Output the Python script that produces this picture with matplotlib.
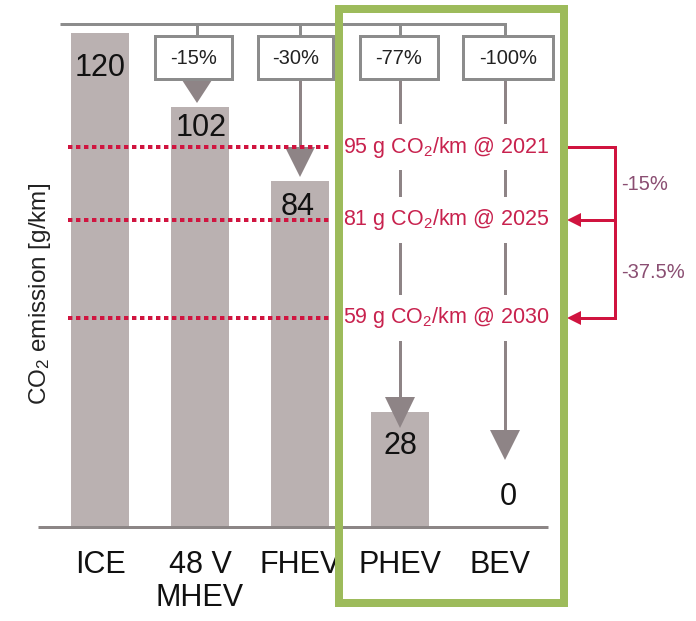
import matplotlib
matplotlib.use("Agg")
import matplotlib.pyplot as plt
from matplotlib import transforms
from matplotlib.patches import Rectangle, Polygon

plt.rcParams['font.family'] = ['Liberation Sans', 'DejaVu Sans']
plt.rcParams['mathtext.default'] = 'regular'

# ---------------- data ----------------
categories = ['ICE', '48 V\nMHEV', 'FHEV', 'PHEV', 'BEV']
emissions = [120, 102, 84, 28, 0]
reductions = [None, '-15%', '-30%', '-77%', '-100%']
targets = ['95 g CO$_2$/km @ 2021', '81 g CO$_2$/km @ 2025', '59 g CO$_2$/km @ 2030']
target_steps = ['-15%', '-37.5%']
ylabel = 'CO$_2$ emission [g/km]'

# ---------------- layout / style ----------------
W, H = 696, 621
PX_PER_UNIT = 4.117
BASE_PX = 527
BAR_C = '#BAB1B1'
ARROW_C = '#8E8486'
BOX_C = '#8C8C8C'
RED = '#D0143F'
RED_TXT = '#C8224E'
PURP = '#8A4E72'
GREEN = '#9DBB5B'

fig = plt.figure(figsize=(W / 100, H / 100), dpi=100)
ax = fig.add_axes([0, 0, 1, 1])
ax.set_xlim(-1, W / 100 - 1)
ax.set_ylim(-(H - BASE_PX) / PX_PER_UNIT, BASE_PX / PX_PER_UNIT)
ax.axis('off')

# pixel transform (origin top-left) for the schematic decorations
P = transforms.Affine2D().scale(1 / W, -1 / H).translate(0, 1) + fig.transFigure
XD_YP = transforms.blended_transform_factory(ax.transData, P)

LW3 = 3 * 0.72  # 3 px in points

# bars
x = list(range(len(categories)))
ax.bar(x, emissions, width=0.58, color=BAR_C, zorder=1)

# value labels
label_dy_px = [-35, -21, -26, -34, 30]
label_dx_px = [0, 1, -2, 0, 8]
for i, v in enumerate(emissions):
    ax.annotate(str(v), xy=(i, v), xytext=(label_dx_px[i] * 0.72, label_dy_px[i] * 0.72),
                textcoords='offset points', ha='center', va='center',
                fontsize=22, color='#111111', zorder=4)

# category labels
for i, c in enumerate(categories):
    ax.text(i, 550, c, transform=XD_YP, ha='center', va='top', fontsize=22,
            color='#111111', linespacing=1.15, zorder=4)

# y label
ax.text(40, 294, ylabel, transform=P, rotation=90, ha='center', va='center',
        fontsize=17.5, color='#222222')

# baseline & top line
ax.plot([38, 548], [527, 527], transform=P, color='#8C8686', lw=LW3, zorder=3,
        solid_capstyle='butt')
ax.plot([60, 505], [24, 24], transform=P, color=BOX_C, lw=LW3, zorder=3,
        solid_capstyle='butt')

# reduction boxes
box_x = [None, (155, 232), (258, 333), (360, 438), (463, 553)]
conn_x = [None, 197, 300, 400, 505]
tri_top = [None, 80, 147, 397, 430]
tri_tip = [None, 103, 177, 428, 460]
tri_half = [None, 15, 15, 15, 15]
BOX_T, BOX_B = 36, 79
for i, r in enumerate(reductions):
    if r is None:
        continue
    x0, x1 = box_x[i]
    cx = conn_x[i]
    ax.plot([cx, cx], [24, BOX_T], transform=P, color=BOX_C, lw=LW3, zorder=3)
    ax.add_patch(Rectangle((x0, BOX_T), x1 - x0, BOX_B - BOX_T, transform=P,
                           facecolor='white', edgecolor=BOX_C, lw=LW3, zorder=5))
    ax.text((x0 + x1) / 2, (BOX_T + BOX_B) / 2 + 1, r, transform=P, ha='center',
            va='center', fontsize=14.5, color='#222222', zorder=6)
    if tri_top[i] > BOX_B + 2:
        ax.plot([cx, cx], [BOX_B, tri_top[i] + 2], transform=P, color=ARROW_C,
                lw=LW3, zorder=3, solid_capstyle='butt')
    h = tri_half[i]
    ax.add_patch(Polygon([(cx - h, tri_top[i]), (cx + h, tri_top[i]), (cx, tri_tip[i])],
                         closed=True, transform=P, facecolor=ARROW_C,
                         edgecolor='none', zorder=3))

# CO2 targets: dotted lines + labels with white backing
target_y = [147, 220, 318]
for t, ty in zip(targets, target_y):
    ax.plot([68, 332], [ty, ty], transform=P, color=RED, lw=4 * 0.72,
            linestyle=(0, (1.1, 0.9)), dash_capstyle='butt', zorder=7)
    ax.add_patch(Rectangle((343, ty - 23), 213, 46, transform=P, facecolor='white',
                           edgecolor='none', zorder=6))
    ax.text(446, ty, t, transform=P, ha='center', va='center', fontsize=15.5,
            color=RED_TXT, zorder=8)

# red bracket
bx, tipx = 615, 567
ax.plot([tipx, bx, bx], [target_y[0], target_y[0], target_y[2]], transform=P,
        color=RED, lw=LW3, zorder=7, solid_joinstyle='miter')
for ty in target_y[1:]:
    ax.plot([bx, tipx + 12], [ty, ty], transform=P, color=RED, lw=LW3, zorder=7)
    ax.add_patch(Polygon([(tipx, ty), (tipx + 14, ty - 7), (tipx + 14, ty + 7)],
                         closed=True, transform=P, facecolor=RED, edgecolor='none',
                         zorder=7))
step_y = [185, 273]
for s, sy in zip(target_steps, step_y):
    ax.text(621, sy, s, transform=P, ha='left', va='center', fontsize=14.5,
            color=PURP, zorder=8)

# green highlight box
ax.add_patch(Rectangle((339, 9), 225, 594, transform=P, facecolor='none',
                       edgecolor=GREEN, lw=8 * 0.72, zorder=10))

fig.savefig('out.png', dpi=100)
